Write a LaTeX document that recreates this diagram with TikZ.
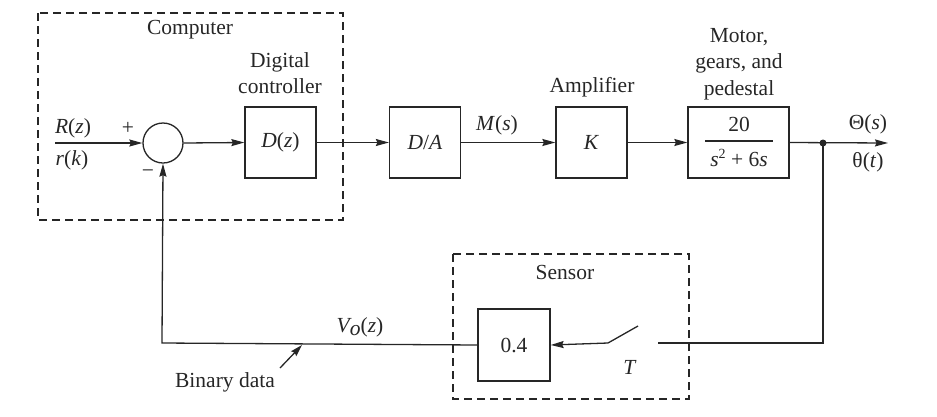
\documentclass[tikz,border=0pt]{standalone}
\usepackage{fontspec}
\setmainfont{Liberation Serif}
\usetikzlibrary{arrows.meta}
\definecolor{ink}{gray}{0.15}
\begin{document}
\begin{tikzpicture}[x=1pt,y=-1pt,
  every node/.style={font=\fontsize{21.5}{26.5}\selectfont, text=ink},
  line/.style={draw=ink, line width=1.3pt},
  arr/.style={line, -{Stealth[length=13pt,width=7pt,inset=1.5pt]}},
  blk/.style={draw=ink, line width=1.3pt, minimum width=71pt, minimum height=71pt, inner sep=0pt},
  grp/.style={draw=ink, line width=1.2pt, dash pattern=on 8pt off 5pt},
  lbl/.style={inner sep=0pt, align=center}]
\useasboundingbox (0,0) rectangle (937,416);

% groups
\draw[grp] (38,13) rectangle (343,220);
\draw[grp] (453,254) rectangle (689,399);
\node[lbl] (comp) at (190,30) {Computer};
\node[lbl] (sens) at (565,272) {Sensor};

% blocks
\node[draw=ink, line width=1.3pt, circle, minimum size=40pt, inner sep=0pt] (sum) at (163,143) {};
\node[blk] (D) at (280.5,142.5) {\textit{D}(\textit{z})};
\node[blk] (DA) at (425,142.5) {\textit{D}/\textit{A}};
\node[blk] (K) at (591.5,142.5) {\textit{K}};
\node[blk, minimum width=101pt] (G) at (738.5,142.5) {};
\node[blk, minimum width=72pt, minimum height=72pt] (H) at (514,345) {0.4};

% fraction inside G
\node[lbl] (num) at (739,124) {20};
\node[lbl] (den) at (739,158) {\textit{s}\raisebox{0.75ex}{\fontsize{14}{14}\selectfont 2} + 6\textit{s}};
\coordinate (fl) at (705,141);
\coordinate (fr) at (773,141);
\draw[line] (fl) -- (fr);

% labels
\node[lbl] (dig) at (280,73) {Digital\\controller};
\node[lbl] (amp) at (592,87) {Amplifier};
\node[lbl] (mot) at (739,64) {Motor,\\gears, and\\pedestal};
\node[lbl] (Rz) at (73,128) {\textit{R}(\textit{z})};
\node[lbl] (rk) at (72,160) {\textit{r}(\textit{k})};
\node[lbl] (plus) at (128,128) {+};
\node[lbl] (minus) at (148,174) {\textminus};
\node[lbl] (Ms) at (497,125) {\textit{M}(\textit{s})};
\node[lbl] (Ths) at (868,124) {Θ(\textit{s})};
\node[lbl] (tht) at (868,162) {θ(\textit{t})};
\node[lbl] (Vo) at (360,327) {\textit{V\raisebox{-0.35ex}{o}}(\textit{z})};
\node[lbl] (T) at (630,367) {\textit{T}};
\node[lbl] (bin) at (225,382) {Binary data};

% coordinates
\coordinate (in) at (55,143);
\coordinate (out) at (888,143);
\coordinate (tap) at (823,143);
\coordinate (fbr) at (823,343);
\coordinate (swr) at (658,343);
\coordinate (swl) at (608,343);
\coordinate (blade) at (638,326);
\coordinate (fbl) at (162,343);
\coordinate (bta) at (280,368);
\coordinate (btb) at (302,345);

% connectors
\draw[arr] (in) -- (sum.west);
\draw[arr] (sum.east) -- (D.west);
\draw[arr] (D.east) -- (DA.west);
\draw[arr] (DA.east) -- (K.west);
\draw[arr] (K.east) -- (G.west);
\draw[arr] (G.east) -- (out);
\fill[ink] (tap) circle (3.5pt);
\draw[line] (tap) -- (fbr) -- (swr);
\draw[line] (swl) -- (blade);
\draw[arr] (swl) -- (H.east);
\draw[arr] (H.west) -- (fbl) -- (sum.south);
\draw[line, -{Stealth[length=12pt,width=7pt,inset=1.5pt]}] (bta) -- (btb);
\end{tikzpicture}
\end{document}
